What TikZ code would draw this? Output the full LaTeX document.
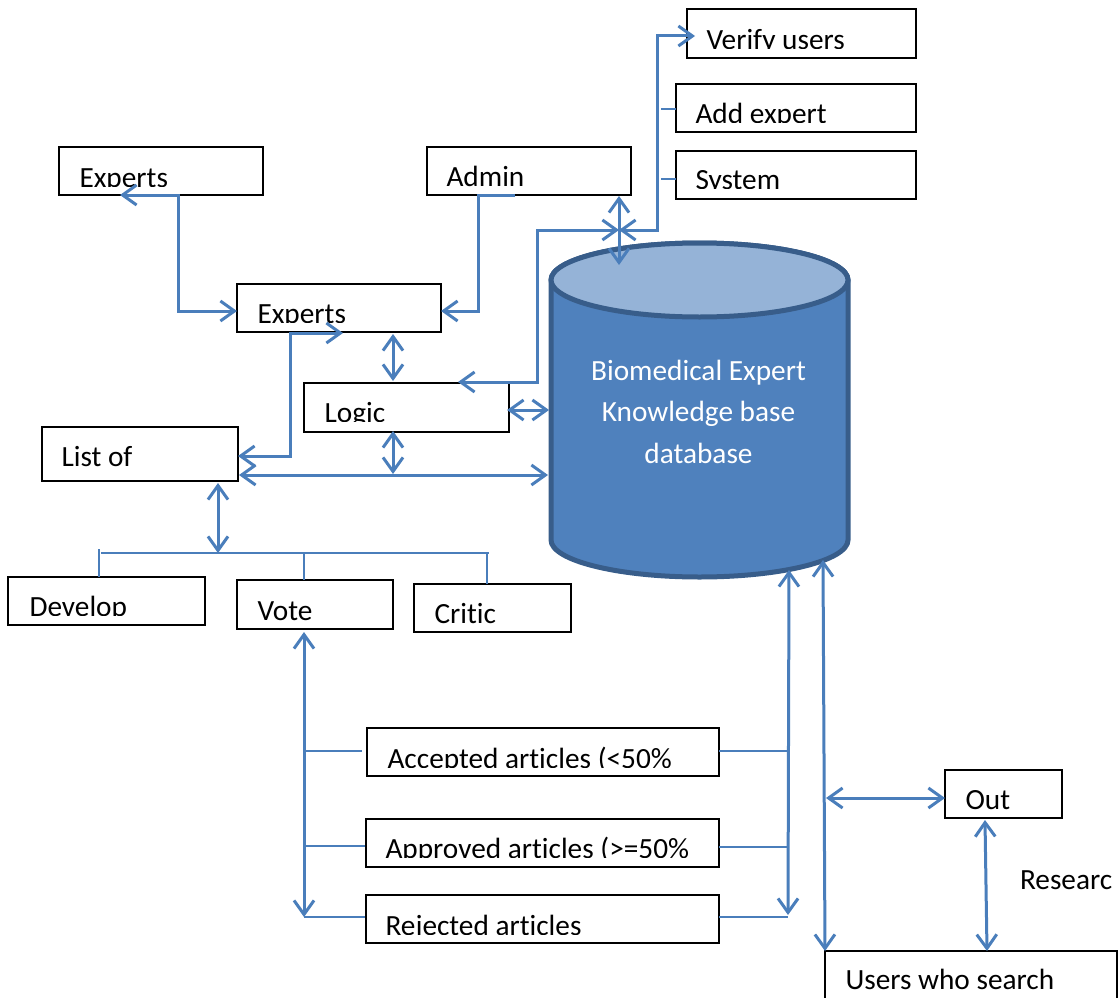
\documentclass[tikz,border=0pt]{standalone}
\usepackage{fontspec}
\setmainfont{Carlito}[Ligatures=NoCommon]
\usetikzlibrary{arrows.meta}
\definecolor{lnk}{HTML}{4A7EBB}
\definecolor{cylfill}{HTML}{4F81BD}
\definecolor{cyltop}{HTML}{95B3D7}
\definecolor{cylline}{HTML}{385D8A}
\tikzset{
  boxshape/.style={draw=black,line width=2.3pt,fill=white,inner sep=0pt,outer sep=0pt,anchor=north west},
  lbl/.style={anchor=base west,inner sep=0pt,outer sep=0pt,font=\fontsize{29.3}{33}\selectfont,text=black},
  conn/.style={draw=lnk,line width=3pt,line join=miter},
  thin conn/.style={draw=lnk,line width=2.3pt},
  two/.style={conn,{Straight Barb[length=14pt,width=20pt,line width=3pt]}-{Straight Barb[length=14pt,width=20pt,line width=3pt]}},
  one/.style={conn,-{Straight Barb[length=14pt,width=20pt,line width=3pt]}},
}
\newcommand{\bx}[5]{\node[boxshape,minimum width={(#4-#2)*1pt},minimum height={(#5-#3)*1pt}] (#1) at (#2,#3) {};}
% name, x, baseline, clip-y, text
\newcommand{\lb}[5]{\begin{scope}\clip (#2-3,#3-40) rectangle (#2+400,#4+0.5);\node[lbl] (#1) at (#2-0.5,#3+1) {#5};\end{scope}}
\begin{document}
\begin{tikzpicture}[x=1pt,y=-1pt]
\useasboundingbox (0,0) rectangle (1119,998);
% cylinder
\draw[cylline,line width=5pt,fill=cylfill] (551,280) -- (551,540) arc[start angle=180,end angle=0,x radius=148.5,y radius=37] -- (848,280) arc[start angle=0,end angle=-180,x radius=148.5,y radius=37] -- cycle;
\draw[cylline,line width=5pt,fill=cyltop] (699.5,280) ellipse[x radius=148.5,y radius=37];
\node[align=center,text=white,inner sep=0pt,font=\fontsize{29.3}{41.5}\selectfont] (db) at (698.5,411.5) {Biomedical Expert\\Knowledge base\\database};
% boxes
\bx{verify}{687}{9}{916}{58}
\bx{addexp}{676}{84}{916}{132}
\bx{system}{676}{151}{916}{199}
\bx{admin}{427}{147}{631}{195}
\bx{expA}{59}{147}{263}{195}
\bx{expB}{237}{284}{441}{332}
\bx{logic}{304}{383}{509}{432}
\bx{listof}{42}{427}{238}{481}
\bx{develop}{8}{577}{205}{625}
\bx{vote}{237}{580}{393}{629}
\bx{critic}{414}{584}{571}{632}
\bx{accepted}{367}{728}{719}{776}
\bx{approved}{366}{819}{719}{867}
\bx{rejected}{366}{895}{719}{943}
\bx{out}{945}{770}{1062}{818}
\bx{users}{825}{951}{1117}{1010}
% labels
\lb{tverify}{707}{48}{48}{Verify users}
\lb{taddexp}{696}{122}{122}{Add expert}
\lb{tsystem}{696}{188}{188}{System}
\lb{tadmin}{447}{185}{194}{Admin}
\lb{texpA}{80}{186}{186}{Experts}
\lb{texpB}{258}{322}{322}{Experts}
\lb{tlogic}{325}{421}{421}{Logic}
\lb{tlistof}{62}{465}{480}{List of}
\lb{tdevelop}{30}{615}{615}{Develop}
\lb{tvote}{258}{619}{628}{Vote}
\lb{tcritic}{435}{622}{631}{Critic}
\lb{taccepted}{388}{767}{767}{Accepted articles (<50\%}
\lb{tapproved}{386}{857}{857}{Approved articles (>=50\%}
\lb{trejected}{386}{934}{934}{Rejected articles}
\lb{tout}{966}{808}{817}{Out}
\node[lbl] (tres) at (1020,889) {Researc};
\lb{tusers}{846}{988}{998}{Users who search}
% junctions
\coordinate (a1) at (120,195);
\coordinate (a2) at (178,195);
\coordinate (b1) at (515,195);
\coordinate (b2) at (478,195);
\coordinate (c1) at (343,333);
\coordinate (c2) at (290,333);
\coordinate (hub) at (619,230);
\coordinate (dbtop) at (619,265);
\coordinate (bus) at (218,553);
\draw[two] (a1) -- (a2) |- (expB.west |- 0,311);
\draw[one] (b1) -- (b2) |- (expB.east |- 0,311);
\draw[two] (393,334) -- (393,381);
\draw[two] (c1) -- (c2) |- (238,456);
\draw[two] (458,382) -- (537,382) |- (hub);
\draw[two] (619,196) -- (dbtop);
\draw[two] (hub) -- (657,230) |- (695,36);
\draw[thin conn] (661,109) -- (addexp.west |- 0,109);
\draw[thin conn] (661,179) -- (system.west |- 0,179);
\draw[two] (507,410) -- (549,410);
\draw[two] (393,431) -- (393,474);
\draw[two] (239,475) -- (548,475);
\draw[two] (218,483) -- (bus);
\draw[thin conn] (101,553) -- (489,553);
\draw[thin conn] (99,549) -- (99,577);
\draw[thin conn] (304,552) -- (304,580);
\draw[thin conn] (487,553) -- (487,584);
\draw[two] (304,632) -- (304,917);
\draw[thin conn] (304,751) -- (362,751);
\draw[thin conn] (304,846) -- (365,846);
\draw[thin conn] (304,917) -- (365,917);
\draw[two] (789,570) -- (788,915);
\draw[thin conn] (719,751) -- (788,751);
\draw[thin conn] (719,847) -- (788,847);
\draw[thin conn] (719,917) -- (788,917);
\draw[two] (823,560) -- (825,951);
\draw[two] (826,798) -- (945,798);
\draw[two] (985,820) -- (987,951);
\end{tikzpicture}
\end{document}
